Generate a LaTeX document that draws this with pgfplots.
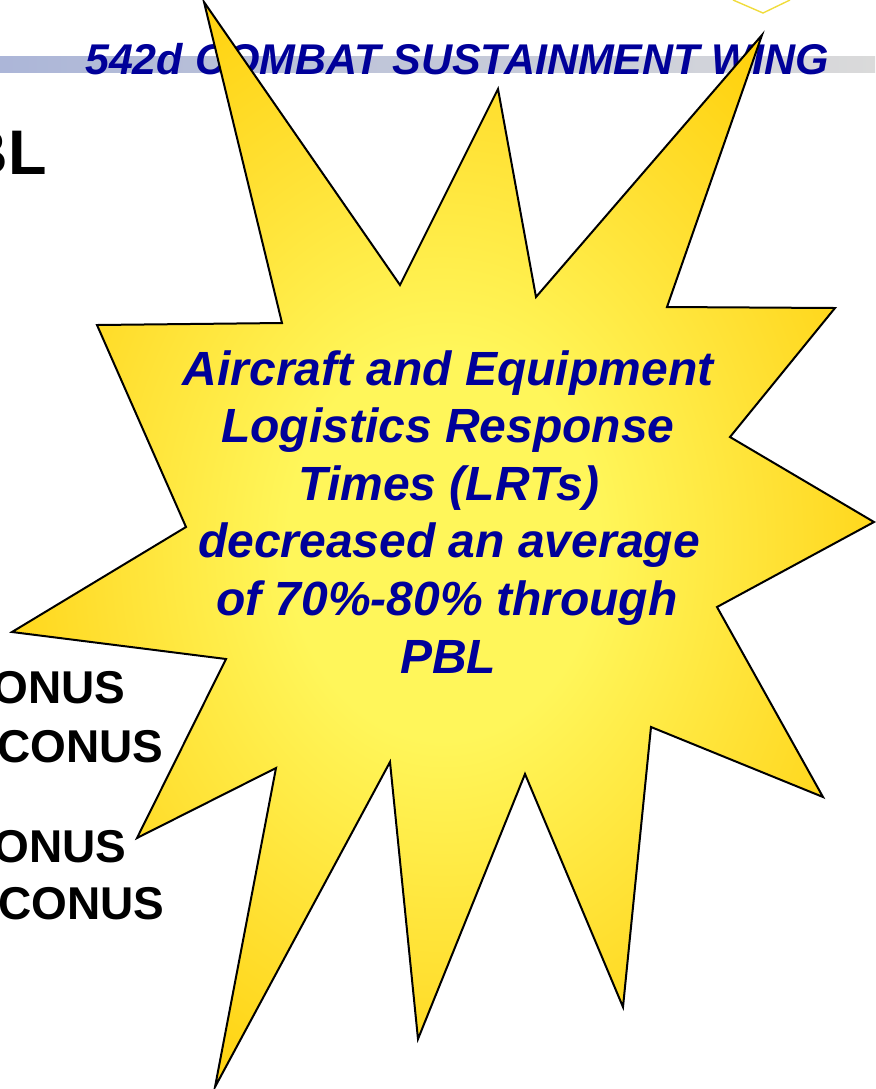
\documentclass[border=0pt]{standalone}
\usepackage{fontspec}
\setmainfont{Liberation Sans}
\usepackage{pgfplots}
\pgfplotsset{compat=1.18}
\definecolor{navy}{RGB}{0,0,153}
\definecolor{stargold}{RGB}{255,204,0}
\definecolor{starmid}{RGB}{255,224,50}
\definecolor{starlight}{RGB}{255,246,90}
\definecolor{barblue}{RGB}{172,182,216}
\definecolor{bargray}{RGB}{218,218,218}
\definecolor{logoyellow}{RGB}{240,220,60}
\pgfdeclareradialshading{starshade}{\pgfpoint{0bp}{0bp}}{color(0bp)=(starlight); color(9bp)=(starlight); color(20bp)=(starmid); color(32bp)=(stargold); color(50bp)=(stargold)}
\begin{document}
\begin{tikzpicture}
\begin{axis}[
  name=ax,
  scale only axis,
  width=437.5pt, height=544.5pt,
  xmin=0, xmax=875, ymin=0, ymax=1089,
  y dir=reverse,
  axis lines=none,
  clip=false,
]
% header bar
\addplot[draw=none, left color=barblue, right color=bargray] coordinates {(0,56) (875,56) (875,72) (0,72)} -- cycle;
% header text
\node[anchor=base, inner sep=0pt, text=navy, font=\fontsize{21.5}{24}\selectfont\bfseries\itshape] at (axis cs:457,74) {542d COMBAT SUSTAINMENT WING};
% logo fragment
\addplot[draw=logoyellow, line width=0.7pt] coordinates {(733,0) (763,13) (790,0)};
% cut-off title and bullet text
\node[anchor=base east, inner sep=0pt, font=\fontsize{31.5}{36}\selectfont\bfseries] at (axis cs:47,174) {PBL};
\node[anchor=base east, inner sep=0pt, font=\fontsize{23}{27}\selectfont\bfseries] at (axis cs:126,703) {CONUS};
\node[anchor=base east, inner sep=0pt, font=\fontsize{23}{27}\selectfont\bfseries] at (axis cs:164,762) {OCONUS};
\node[anchor=base east, inner sep=0pt, font=\fontsize{23}{27}\selectfont\bfseries] at (axis cs:127,862) {CONUS};
\node[anchor=base east, inner sep=0pt, font=\fontsize{23}{27}\selectfont\bfseries] at (axis cs:165,919) {OCONUS};
% starburst
\addplot[draw=black, line width=1pt, line join=miter, shading=starshade] coordinates {
 (204,2) (400,285) (498,89) (536,297) (762,35) (667,307) (835,308) (730,437)
 (874,522) (717,607) (823,797) (651,727) (623,1007) (525,774) (418,1039) (390,762)
 (215,1087) (276,768) (137,838) (226,659) (12,632) (186,527) (97,325) (282,323)
} -- cycle;
% star text
\node[anchor=base, inner sep=0pt, text=navy, font=\fontsize{24}{28}\selectfont\bfseries\itshape] at (axis cs:448,385) {Aircraft and Equipment};
\node[anchor=base, inner sep=0pt, text=navy, font=\fontsize{24}{28}\selectfont\bfseries\itshape] at (axis cs:448,442.6) {Logistics Response};
\node[anchor=base, inner sep=0pt, text=navy, font=\fontsize{24}{28}\selectfont\bfseries\itshape] at (axis cs:449,500) {Times (LRTs)};
\node[anchor=base, inner sep=0pt, text=navy, font=\fontsize{24}{28}\selectfont\bfseries\itshape] at (axis cs:449,557.6) {decreased an average};
\node[anchor=base, inner sep=0pt, text=navy, font=\fontsize{24}{28}\selectfont\bfseries\itshape] at (axis cs:447,615) {of 70\%-80\% through};
\node[anchor=base, inner sep=0pt, text=navy, font=\fontsize{24}{28}\selectfont\bfseries\itshape] at (axis cs:448,673) {PBL};
\end{axis}
\pgfresetboundingbox
\useasboundingbox (ax.south west) rectangle (ax.north east);
\end{tikzpicture}
\end{document}
